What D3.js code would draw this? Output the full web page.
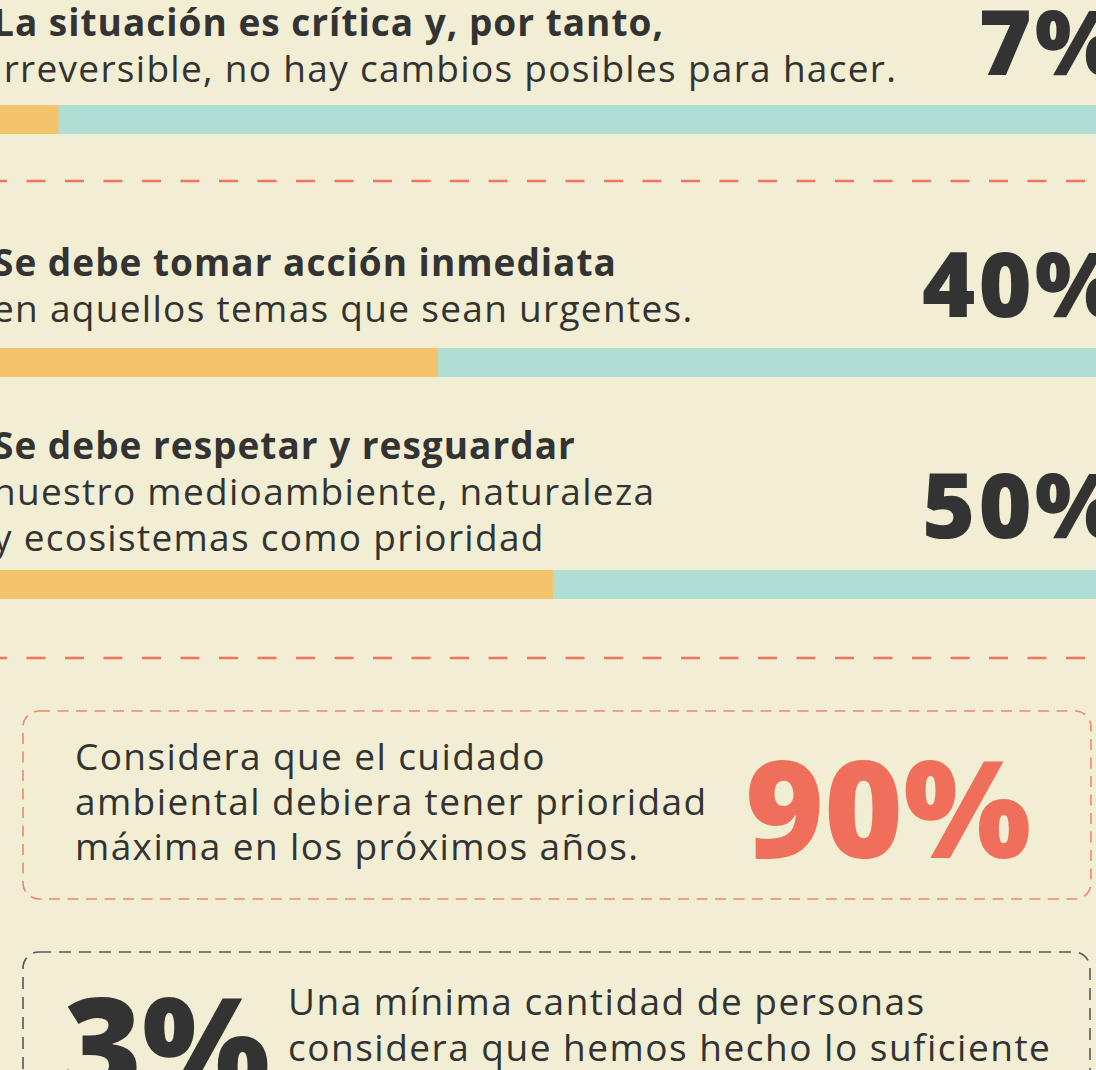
<!DOCTYPE html>
<html>
<head>
<meta charset="utf-8">
<script src="https://cdn.jsdelivr.net/npm/d3@7"></script>
<style>
  html, body { margin: 0; padding: 0; background: #f2eed3; overflow: hidden; }
  svg { display: block; }
  text { font-family: "Open Sans", sans-serif; fill: #333333; }
</style>
</head>
<body>
<div id="container"></div>
<script>
// survey answers (bars)
var barValues = [7, 40, 50];
var barTitles = ["La situación es crítica y, por tanto,", "Se debe tomar acción inmediata", "Se debe respetar y resguardar"];
var barLines = [
  ["irreversible, no hay cambios posibles para hacer."],
  ["en aquellos temas que sean urgentes."],
  ["nuestro medioambiente, naturaleza", "y ecosistemas como prioridad"]
];

// highlighted figures
var highlightValues = [90, 3];
var highlightLines = [
  ["Considera que el cuidado", "ambiental debiera tener prioridad", "máxima en los próximos años."],
  ["Una mínima cantidad de personas", "considera que hemos hecho lo suficiente"]
];

var width = 1096, height = 1070;
var svg = d3.select("#container").append("svg")
    .attr("width", width)
    .attr("height", height);

svg.append("rect").attr("width", width).attr("height", height).attr("fill", "#f2eed3");

var x = d3.scaleLinear()
    .domain([0, 100])
    .range([-22, 1128]);

// vertical layout of each block
var blockTop = [0, 240, 423];
var barY = [105, 348, 570];
var barH = 29;

var blocks = svg.selectAll("g.block")
  .data(barValues)
  .enter().append("g")
    .attr("class", "block");

blocks.append("text")
    .attr("x", -7)
    .attr("y", function(d, i) { return blockTop[i] + 36; })
    .style("font-size", "37px")
    .style("font-weight", 700)
    .style("letter-spacing", "1px")
    .text(function(d, i) { return barTitles[i]; });

blocks.each(function(d, i) {
  var g = d3.select(this);
  barLines[i].forEach(function(line, j) {
    g.append("text")
      .attr("x", -7)
      .attr("y", blockTop[i] + 82 + j * 46)
      .style("font-size", "37px")
      .style("letter-spacing", "1.3px")
      .text(line);
  });
});

// big percentage on the right
var pctY = [75, 317, 538];
blocks.append("text")
    .attr("x", 1124)
    .attr("y", function(d, i) { return pctY[i]; })
    .attr("text-anchor", "end")
    .style("font-size", "91px")
    .style("font-weight", 800)
    .style("letter-spacing", "3px")
    .text(function(d) { return d + "%"; });

// background (teal) and value (orange) bars
blocks.append("rect")
    .attr("x", x(0))
    .attr("y", function(d, i) { return barY[i]; })
    .attr("width", x(100) - x(0))
    .attr("height", barH)
    .attr("fill", "#b0ded5");

blocks.append("rect")
    .attr("x", x(0))
    .attr("y", function(d, i) { return barY[i]; })
    .attr("width", function(d) { return x(d) - x(0); })
    .attr("height", barH)
    .attr("fill", "#f5c36b");

// dashed separators
[181, 658].forEach(function(yy) {
  svg.append("line")
    .attr("x1", -12).attr("x2", width + 20)
    .attr("y1", yy).attr("y2", yy)
    .attr("stroke", "#ef7560")
    .attr("stroke-width", 2.5)
    .attr("stroke-dasharray", "19,19.5");
});

// box 1 : 90%
svg.append("rect")
    .attr("x", 23).attr("y", 711)
    .attr("width", 1068).attr("height", 188)
    .attr("rx", 16)
    .attr("fill", "none")
    .attr("stroke", "#ef8672")
    .attr("stroke-width", 1.6)
    .attr("stroke-dasharray", "11,7.5");

highlightLines[0].forEach(function(line, j) {
  svg.append("text")
    .attr("x", 75)
    .attr("y", 770 + j * 45)
    .style("font-size", "37px")
    .style("letter-spacing", "1.4px")
    .text(line);
});

svg.append("text")
    .attr("x", 745)
    .attr("y", 858)
    .style("font-size", "135px")
    .style("font-weight", 800)
    .style("fill", "#ef6f5a")
    .text(highlightValues[0] + "%");

// box 2 : 3%
svg.append("rect")
    .attr("x", 23).attr("y", 952)
    .attr("width", 1067).attr("height", 200)
    .attr("rx", 16)
    .attr("fill", "none")
    .attr("stroke", "#555555")
    .attr("stroke-width", 1.6)
    .attr("stroke-dasharray", "12,8");

svg.append("text")
    .attr("x", 63)
    .attr("y", 1095)
    .style("font-size", "135px")
    .style("font-weight", 800)
    .text(highlightValues[1] + "%");

highlightLines[1].forEach(function(line, j) {
  svg.append("text")
    .attr("x", 288)
    .attr("y", 1015 + j * 46)
    .style("font-size", "37px")
    .style("letter-spacing", "1.5px")
    .text(line);
});
</script>
</body>
</html>
